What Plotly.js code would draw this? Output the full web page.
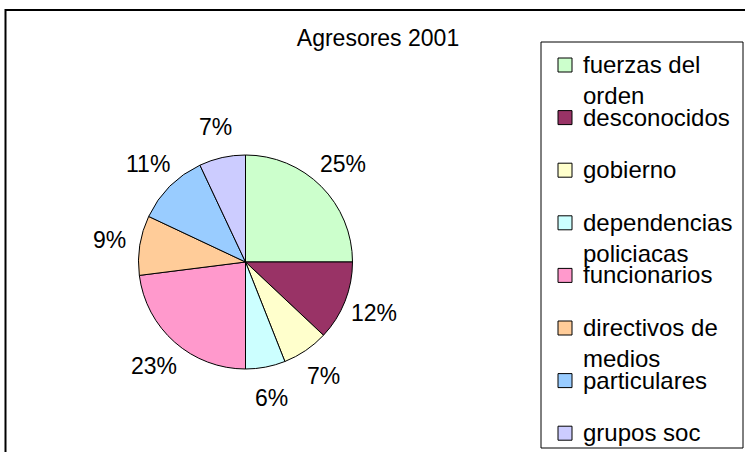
<!DOCTYPE html>
<html>
<head>
<meta charset="utf-8">
<script src="https://cdn.plot.ly/plotly-3.0.1.min.js"></script>
<style>html,body{margin:0;padding:0;background:#fff;}#chart{width:745px;height:452px;}</style>
</head>
<body>
<div id="chart"></div>
<script>
var categories = ["fuerzas del orden", "desconocidos", "gobierno", "dependencias policiacas", "funcionarios", "directivos de medios", "particulares", "grupos soc"];
var legendLabels = ["fuerzas del<br>orden", "desconocidos", "gobierno", "dependencias<br>policiacas", "funcionarios", "directivos de<br>medios", "particulares", "grupos soc"];
var percentValues = [25, 12, 7, 6, 23, 9, 11, 7];
var sliceColors = ["#CCFFCC", "#993366", "#FFFFCC", "#CCFFFF", "#FF99CC", "#FFCC99", "#99CCFF", "#CCCCFF"];
var chartTitle = "Agresores 2001";

var W = 745, H = 452;
function px(x){ return x / W; }
function py(y){ return 1 - y / H; }
var FONT = "Arial, 'Liberation Sans', sans-serif";

// pie geometry (pixels)
var CX = 245.5, CY = 262, R = 107, LABEL_R = 138;

var trace = {
  type: "pie",
  labels: categories,
  values: percentValues,
  sort: false,
  direction: "clockwise",
  rotation: 0,
  marker: { colors: sliceColors, line: { color: "#000000", width: 1 } },
  textposition: "none",
  automargin: false,
  showlegend: false,
  hoverinfo: "none",
  domain: { x: [px(CX - R), px(CX + R)], y: [py(CY + R), py(CY - R)] }
};

var shapes = [
  { type: "rect", xref: "paper", yref: "paper", x0: px(5.5), x1: 1.05, y0: -0.05, y1: py(10), line: { color: "#000000", width: 2 }, fillcolor: "rgba(0,0,0,0)" },
  { type: "rect", xref: "paper", yref: "paper", x0: px(541), x1: px(743), y0: py(448), y1: py(42), line: { color: "#000000", width: 1 }, fillcolor: "rgba(0,0,0,0)" }
];
var annotations = [];

// percentage labels placed at each slice's mid-angle, derived from the values
var total = percentValues.reduce(function(a, b){ return a + b; }, 0);
var cum = 0;
for (var k = 0; k < percentValues.length; k++) {
  var mid = (cum + percentValues[k] / 2) / total * 2 * Math.PI;
  cum += percentValues[k];
  var lx = CX + LABEL_R * Math.sin(mid);
  var ly = CY - LABEL_R * Math.cos(mid);
  annotations.push({ xref: "paper", yref: "paper", x: px(lx), y: py(ly), xanchor: "center", yanchor: "middle", showarrow: false,
    text: Math.round(percentValues[k] / total * 100) + "%", font: { family: FONT, size: 23, color: "#000000" } });
}

// legend
var step = 52.6, firstY = 65;
for (var i = 0; i < categories.length; i++) {
  var cy = firstY + step * i;
  shapes.push({ type: "rect", xref: "paper", yref: "paper", x0: px(558), x1: px(572), y0: py(cy + 7), y1: py(cy - 7), line: { color: "#000000", width: 1 }, fillcolor: sliceColors[i] });
  annotations.push({ xref: "paper", yref: "paper", x: px(581), y: py(cy - 16), xanchor: "left", yanchor: "top", align: "left", showarrow: false, text: legendLabels[i], font: { family: FONT, size: 24, color: "#000000" } });
}

var layout = {
  width: W, height: H,
  margin: { l: 0, r: 0, t: 0, b: 0 },
  paper_bgcolor: "#ffffff",
  plot_bgcolor: "#ffffff",
  showlegend: false,
  title: { text: chartTitle, x: px(378), y: py(38), xanchor: "center", yanchor: "middle", xref: "paper", yref: "paper", font: { family: FONT, size: 23, color: "#000000" } },
  shapes: shapes,
  annotations: annotations
};

Plotly.newPlot("chart", [trace], layout, { staticPlot: true, displayModeBar: false });
</script>
</body>
</html>
